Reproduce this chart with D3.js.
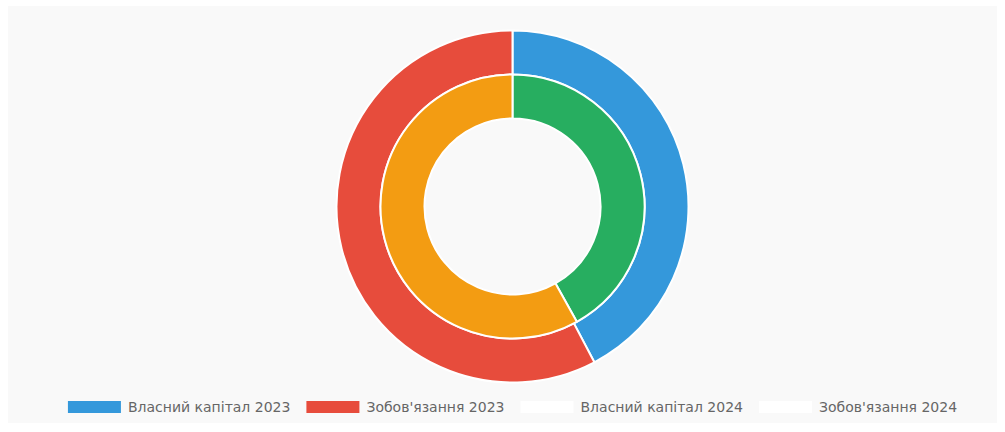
<!DOCTYPE html>
<html><head><meta charset="utf-8">
<script src="https://cdn.jsdelivr.net/npm/d3@7"></script>
<style>
html,body{margin:0;padding:0;background:#fff;}
svg{display:block;}
</style></head>
<body>
<svg id="chart" width="1005" height="432"></svg>
<script>
const categories = ["Власний капітал 2023", "Зобов'язання 2023", "Власний капітал 2024", "Зобов'язання 2024"];
const values2023 = [42.3, 57.7];
const values2024 = [41.9, 58.1];
const colors2023 = ["#3498db", "#e74c3c"];
const colors2024 = ["#27ae60", "#f39c12"];
const legendColors = ["#3498db", "#e74c3c", "#ffffff", "#ffffff"];

const svg = d3.select("#chart");
svg.append("rect").attr("x", 8).attr("y", 6).attr("width", 989).attr("height", 417).attr("fill", "#f9f9f9");

const cx = 512.5, cy = 206.5, R = 176, cut = 88, thick = (R - cut) / 2;
const g = svg.append("g").attr("transform", `translate(${cx},${cy})`);
const pie = d3.pie().sort(null).value(d => d);

function ring(vals, cols, outer, inner) {
  const arc = d3.arc().outerRadius(outer).innerRadius(inner);
  g.append("g").selectAll("path").data(pie(vals)).join("path")
    .attr("d", arc).attr("fill", (d, i) => cols[i])
    .attr("stroke", "#fff").attr("stroke-width", 2).attr("stroke-linejoin", "bevel");
}
ring(values2023, colors2023, R, R - thick);
ring(values2024, colors2024, R - thick, cut);

// legend
const lg = svg.append("g").attr("font-family", "'DejaVu Sans', Verdana, sans-serif")
  .attr("font-size", 14).attr("fill", "#666");
const boxW = 53, boxH = 12, gapText = 7, itemGap = 16, ly = 407;
const items = lg.selectAll("g").data(categories).join("g");
items.append("rect").attr("width", boxW).attr("height", boxH).attr("y", ly - boxH / 2)
  .attr("fill", (d, i) => legendColors[i]);
const texts = items.append("text").attr("x", boxW + gapText).attr("y", ly).attr("dy", "0.35em").text(d => d);
const widths = [];
texts.each(function () { widths.push(this.getComputedTextLength()); });
const itemW = widths.map(w => boxW + gapText + w);
const total = d3.sum(itemW) + itemGap * (itemW.length - 1);
let x0 = cx - total / 2;
items.attr("transform", (d, i) => {
  const t = `translate(${x0},0)`;
  x0 += itemW[i] + itemGap;
  return t;
});
</script>
</body></html>
